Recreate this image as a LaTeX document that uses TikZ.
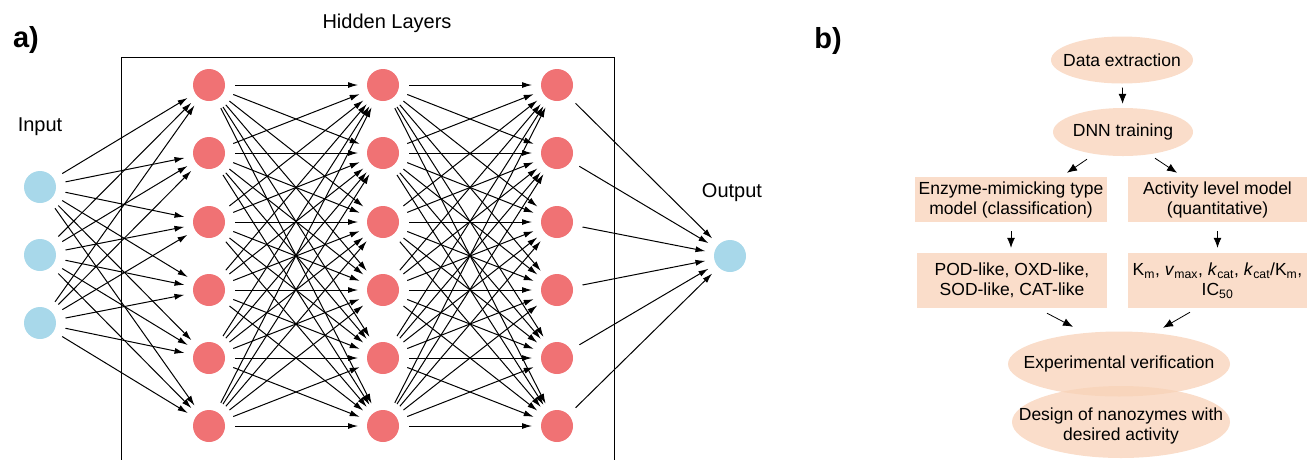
\documentclass[tikz,border=0pt]{standalone}
\usepackage{fontspec}
\setmainfont{Liberation Sans}
\usetikzlibrary{arrows.meta,shapes.geometric,calc}
\definecolor{inblue}{HTML}{A8D8EA}
\definecolor{hidred}{HTML}{F07274}
\definecolor{peach}{HTML}{F8D2B8}
\begin{document}
\begin{tikzpicture}[x=1pt,y=-1pt,
  neuron/.style={circle,minimum size=32pt,inner sep=0pt,outer sep=0pt},
  inneuron/.style={neuron,fill=inblue},
  hidneuron/.style={neuron,fill=hidred},
  arr/.style={-{Latex[length=10pt,width=6pt]},line width=1pt,shorten <=10pt,shorten >=9pt},
  farr/.style={-{Latex[length=10pt,width=8pt]},line width=0.8pt},
  netlabel/.style={font=\fontsize{20}{24}\selectfont},
  panel/.style={font=\fontsize{29}{34}\selectfont\bfseries},
  flow/.style={font=\fontsize{17.5}{20}\selectfont,align=center,inner sep=0pt},
  oval/.style={ellipse,inner sep=0pt,fill=peach,fill opacity=0.75},
  fbox/.style={flow,rectangle,fill=peach,fill opacity=0.75,text opacity=1}]
\useasboundingbox (0,0) rectangle (1307,459);
% panel labels
\node[panel] (la) at (26,40) {a)};
\node[panel] (lb) at (828,41) {b)};
% hidden box
\draw[line width=0.9pt] (121,470) -- (121,57) -- (614,57) -- (614,470);
\node[netlabel] (hl) at (387,23) {Hidden Layers};
\node[netlabel] (inl) at (40,127) {Input};
\node[netlabel] (outl) at (732,193) {Output};
% neurons
\foreach \i/\y in {1/187,2/255,3/323} {\node[inneuron] (in\i) at (40,\y) {};}
\foreach \j/\y in {1/85,2/153,3/222,4/290,5/358,6/426} {
  \node[hidneuron] (a\j) at (209,\y) {};
  \node[hidneuron] (b\j) at (383,\y) {};
  \node[hidneuron] (c\j) at (557,\y) {};
}
\node[inneuron] (out) at (730,256) {};
% connections
\foreach \i in {1,2,3} {\foreach \j in {1,...,6} {\draw[arr] (in\i) -- (a\j);}}
\foreach \i in {1,...,6} {\foreach \j in {1,...,6} {
  \draw[arr] (a\i) -- (b\j);
  \draw[arr] (b\i) -- (c\j);}}
\foreach \i in {1,...,6} {\draw[arr] (c\i) -- (out);}
% flowchart
\node[oval,minimum width=142pt,minimum height=47pt] (data) at (1122,60) {};
\node[flow] (datat) at (data) {Data extraction};
\node[oval,minimum width=140pt,minimum height=48pt] (dnn) at (1123,132) {};
\node[flow] (dnnt) at (dnn) {DNN training};
\node[fbox,minimum width=192pt,minimum height=45pt] (enz) at (1011,199.5) {Enzyme-mimicking type\\model (classification)};
\node[fbox,minimum width=179pt,minimum height=45pt] (act) at (1217.5,199.5) {Activity level model\\(quantitative)};
\node[fbox,minimum width=190pt,minimum height=55pt] (pod) at (1012,280.5) {POD-like, OXD-like,\\SOD-like, CAT-like};
\node[fbox,minimum width=179pt,minimum height=55pt] (km) at (1217.5,280.5) {K\textsubscript{m}, \textit{v}\textsubscript{max}, \textit{k}\textsubscript{cat}, \textit{k}\textsubscript{cat}/K\textsubscript{m},\\IC\textsubscript{50}};
\node[oval,minimum width=218pt,minimum height=72pt] (des) at (1121,422) {};
\node[oval,minimum width=222pt,minimum height=65pt] (exp) at (1119,364) {};
\node[flow] (dest) at (1121,426) {Design of nanozymes with\\desired activity};
\node[flow] (expt) at (exp) {Experimental verification};
% flow arrows
\draw[farr,shorten <=4pt,shorten >=4pt] (data) -- (dnn);
\draw[farr] ($(dnn.south)+(-36,3)$) -- ($(enz.north)+(56,-4)$);
\draw[farr] ($(dnn.south)+(32,2)$) -- ($(act.north)+(-40.5,-4)$);
\draw[farr,shorten <=9pt,shorten >=5pt] (enz.south) -- (enz.south |- pod.north);
\draw[farr,shorten <=9pt,shorten >=5pt] (act.south) -- (km.north);
\draw[farr] ($(pod.south)+(35,5)$) -- ($(exp.north)+(-46,-4.5)$);
\draw[farr] ($(km.south)+(-27.5,4)$) -- ($(exp.north)+(44,-3.5)$);
\end{tikzpicture}
\end{document}
